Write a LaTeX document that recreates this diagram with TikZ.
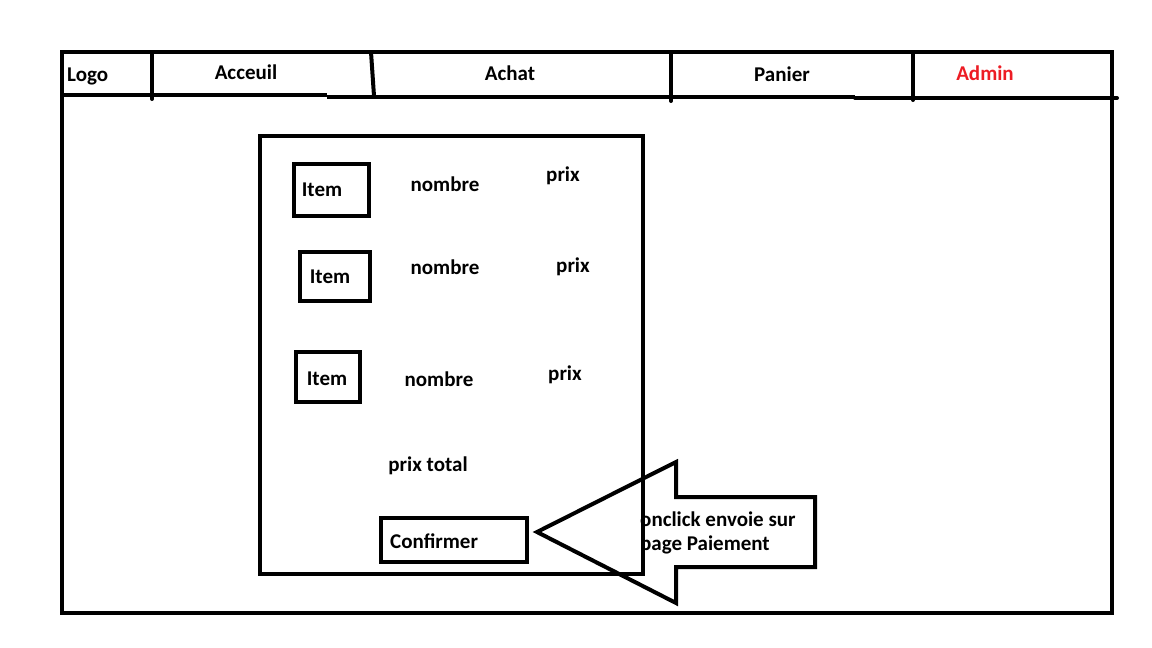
\documentclass[tikz,border=0pt]{standalone}
\usepackage{fontspec}
\setmainfont{Carlito}
\begin{document}
\begin{tikzpicture}[x=1pt,y=-1pt,
  thick4/.style={line width=4pt},
  lbl/.style={font=\bfseries\fontsize{21}{24}\selectfont, inner sep=0pt, text=black}]
\useasboundingbox (0,0) rectangle (1152,648);
\fill[white] (0,0) rectangle (1152,648);
% outer frame
\draw[thick4, line cap=rect] (62,52) -- (1112,52) -- (1112,613) -- (62,613) -- cycle;
% nav bar line
\draw[thick4] (62,95) -- (327,95);
\draw[thick4] (327,97) -- (855,97);
\draw[thick4, line cap=round] (855,98) -- (1117,98);
% dividers
\draw[thick4, line cap=round] (152,52) -- (152,99);
\draw[thick4] (371,52) -- (374,96);
\draw[thick4, line cap=round] (671,52) -- (671,101);
\draw[thick4, line cap=round] (913,52) -- (913,100);
% nav labels
\node[lbl, anchor=west] (logo) at (67,76) {Logo};
\node[lbl] (acceuil) at (246,72) {Acceuil};
\node[lbl] (achat) at (510,73) {Achat};
\node[lbl] (panier) at (782,74) {Panier};
\node[lbl, text={rgb,255:red,237;green,28;blue,36}] (admin) at (985,73) {Admin};
% inner panel
\draw[thick4] (260,136) rectangle (643,574);
% item boxes
\draw[thick4] (294,164) rectangle (369,216);
\node[lbl] (item1) at (322,190) {Item};
\draw[thick4] (300,252) rectangle (370,301);
\node[lbl] (item2) at (330,277) {Item};
\draw[thick4] (296,352) rectangle (360,402);
\node[lbl] (item3) at (327,379) {Item};
% nombre / prix
\node[lbl] (n1) at (445,184) {nombre};
\node[lbl] (n2) at (445,267) {nombre};
\node[lbl] (n3) at (439,379) {nombre};
\node[lbl] (p1) at (563,176) {prix};
\node[lbl] (p2) at (573,267) {prix};
\node[lbl] (p3) at (565,375) {prix};
\node[lbl] (total) at (428,466) {prix total};
% confirmer
\draw[thick4] (381,518) rectangle (527,562);
\node[lbl, anchor=west] (confirmer) at (390,541) {Confirmer};
% arrow outline
\draw[thick4, line join=miter] (537,532) -- (676,462) -- (676,497) -- (815,497) -- (815,567) -- (676,567) -- (676,603) -- cycle;
\node[lbl, anchor=west] (note1) at (640,519) {onclick envoie sur};
\node[lbl, anchor=west] (note2) at (640,545) {page Paiement};
\end{tikzpicture}
\end{document}
